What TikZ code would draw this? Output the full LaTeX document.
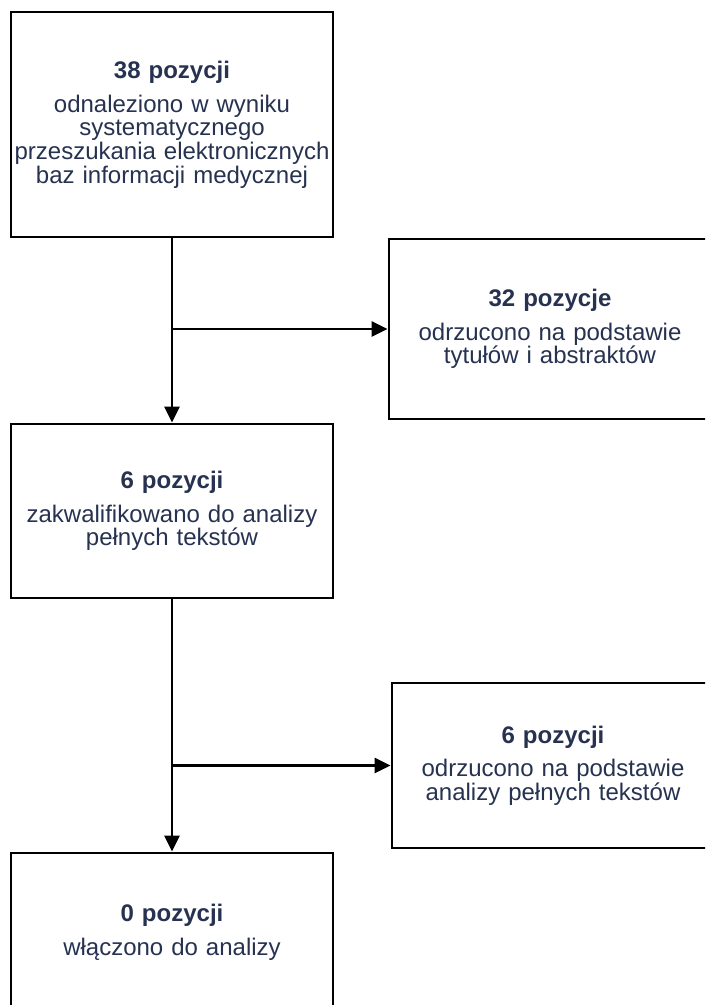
\documentclass[tikz,border=0pt]{standalone}
\usepackage{fontspec}
\setmainfont{Liberation Sans}
\usepackage{tikz}
\usetikzlibrary{arrows.meta}
\definecolor{navytext}{RGB}{38,50,80}
\tikzstyle{block} = [draw, line width=2.8pt, fill=white, rectangle,
    minimum width=322pt, text width=318pt, align=center, inner sep=0pt,
    text=navytext, font=\fontsize{24pt}{23.7pt}\selectfont]
\tikzstyle{input} = [coordinate]
\begin{document}
\begin{tikzpicture}[auto, node distance=2cm, >={Triangle[length=16pt,width=15pt]}, line width=2.8pt]
% Page frame
	\useasboundingbox (0,0) rectangle (705pt,-1005pt);
	\clip (0,0) rectangle (705pt,-1005pt);
% Left column of blocks
	\node [block, minimum height=225pt] (G1) at (172pt,-124.5pt) {\textbf{38 pozycji}\\[10pt]odnaleziono w wyniku\\systematycznego\\przeszukania elektronicznych\\baz informacji medycznej};
	\node [block, below of=G1, node distance=386.5pt, minimum height=174pt] (G3) {\textbf{6 pozycji}\\[10pt]zakwalifikowano do analizy\\pełnych tekstów};
	\node [block, below of=G3, node distance=421pt, minimum height=158pt] (G5) {\textbf{0 pozycji}\\[10pt]włączono do analizy};
% Right column of blocks
	\node [input, below of=G1, node distance=204.5pt, name=aref1] {};
	\node [block, right of=aref1, node distance=378pt, minimum height=180pt] (G2) {\textbf{32 pozycje}\\[10pt]odrzucono na podstawie\\tytułów i abstraktów};
	\node [input, below of=G3, node distance=254.5pt, name=aref3] {};
	\node [block, right of=aref3, node distance=381pt, minimum height=165pt] (G4) {\textbf{6 pozycji}\\[10pt]odrzucono na podstawie\\analizy pełnych tekstów};
% Arrows
	\draw [->] (G1) -- (G3);
	\draw [->] (aref1) -- (G2);
	\draw [->] (G3) -- (G5);
	\draw [->] (aref3) -- (G4);
\end{tikzpicture}
\end{document}
